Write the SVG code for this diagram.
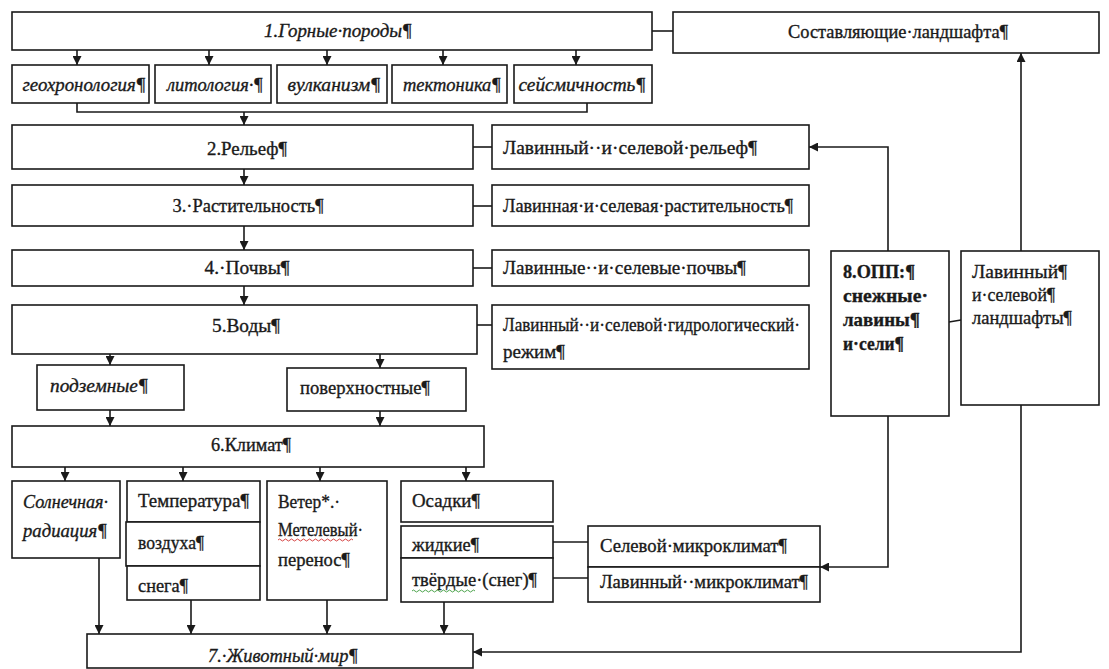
<svg xmlns="http://www.w3.org/2000/svg" width="1109" height="669" viewBox="0 0 1109 669" font-family="'Liberation Serif', 'Times New Roman', serif" font-size="19">
  <style>
    .box { fill: #ffffff; stroke: #1a1a1a; stroke-width: 1.6; }
    .ln { fill: none; stroke: #1a1a1a; stroke-width: 1.6; }
    .ar { fill: none; stroke: #1a1a1a; stroke-width: 1.6; marker-end: url(#tip); }
    text { font-family: 'Liberation Serif', 'Times New Roman', serif; font-size: 19px; fill: #1a1a1a; stroke: #1a1a1a; stroke-width: 0.35; }
    .c { text-anchor: middle; }
    .i { font-style: italic; }
    .b { font-weight: bold; }
    .wavy-r { fill: none; stroke: #d03030; stroke-width: 0.9; }
    .wavy-g { fill: none; stroke: #3a9a3a; stroke-width: 0.9; }
  </style>
  <defs>
    <marker id="tip" viewBox="0 0 10 10" refX="10" refY="5" markerWidth="9" markerHeight="9" markerUnits="userSpaceOnUse" orient="auto">
      <path d="M0,0 L10,5 L0,10 z" fill="#1a1a1a"/>
    </marker>
  </defs>
  <rect width="1109" height="669" fill="#ffffff"/>

  <!-- connectors -->
  <g id="connectors">
    <line class="ln" x1="652" y1="31" x2="673" y2="31"/>
    <line class="ar" x1="77" y1="50" x2="77" y2="65"/>
    <line class="ar" x1="209" y1="50" x2="209" y2="65"/>
    <line class="ar" x1="327" y1="50" x2="327" y2="65"/>
    <line class="ar" x1="443" y1="50" x2="443" y2="65"/>
    <line class="ar" x1="576" y1="50" x2="576" y2="65"/>
    <polyline class="ln" points="77,103 77,112 587,112 587,103"/>
    <line class="ar" x1="244" y1="112" x2="244" y2="125"/>
    <line class="ar" x1="244" y1="169" x2="244" y2="185"/>
    <line class="ar" x1="244" y1="226" x2="244" y2="250"/>
    <line class="ar" x1="244" y1="286" x2="244" y2="305"/>
    <line class="ln" x1="473" y1="147" x2="492" y2="147"/>
    <line class="ln" x1="473" y1="206" x2="492" y2="206"/>
    <line class="ln" x1="473" y1="268" x2="492" y2="268"/>
    <line class="ln" x1="477" y1="325" x2="492" y2="325"/>
    <line class="ar" x1="110" y1="354" x2="110" y2="365"/>
    <line class="ar" x1="380" y1="354" x2="380" y2="368"/>
    <line class="ar" x1="110" y1="410" x2="110" y2="426"/>
    <line class="ar" x1="380" y1="411" x2="380" y2="426"/>
    <line class="ar" x1="65" y1="467" x2="65" y2="481"/>
    <line class="ar" x1="183" y1="467" x2="183" y2="481"/>
    <line class="ar" x1="320" y1="467" x2="320" y2="481"/>
    <line class="ar" x1="466" y1="467" x2="466" y2="481"/>
    <line class="ar" x1="99" y1="558" x2="99" y2="634"/>
    <line class="ar" x1="191" y1="600" x2="191" y2="634"/>
    <line class="ar" x1="327" y1="600" x2="327" y2="634"/>
    <line class="ar" x1="444" y1="602" x2="444" y2="634"/>
    <line class="ln" x1="553" y1="542" x2="588" y2="542"/>
    <line class="ln" x1="553" y1="578" x2="588" y2="578"/>
    <polyline class="ar" points="888,251 888,147 809,147"/>
    <polyline class="ar" points="888,416 888,567 820,567"/>
    <polyline class="ar" points="1021,251 1021,53"/>
    <polyline class="ar" points="1021,405 1021,652 473,652"/>
    <line class="ln" x1="949" y1="322" x2="961" y2="320"/>
  </g>

  <!-- 1. rocks -->
  <g id="n1-rocks">
    <rect class="box" x="12" y="12" width="640" height="38"/>
    <text class="c i" x="338" y="37" textLength="148" lengthAdjust="spacingAndGlyphs">1.Горные·породы¶</text>
  </g>
  <g id="n-components">
    <rect class="box" x="673" y="12" width="426" height="41"/>
    <text class="c" x="898" y="38" textLength="220" lengthAdjust="spacingAndGlyphs">Составляющие·ландшафта¶</text>
  </g>

  <g id="n1a-geochronology">
    <rect class="box" x="12" y="65" width="137" height="38"/>
    <text class="c i" x="84" y="91" textLength="123" lengthAdjust="spacingAndGlyphs">геохронология¶</text>
  </g>
  <g id="n1b-lithology">
    <rect class="box" x="155" y="65" width="116" height="38"/>
    <text class="c i" x="215" y="91" textLength="96" lengthAdjust="spacingAndGlyphs">литология·¶</text>
  </g>
  <g id="n1c-volcanism">
    <rect class="box" x="277" y="65" width="110" height="38"/>
    <text class="c i" x="334" y="91" textLength="93" lengthAdjust="spacingAndGlyphs">вулканизм¶</text>
  </g>
  <g id="n1d-tectonics">
    <rect class="box" x="392" y="65" width="115" height="38"/>
    <text class="c i" x="452" y="91" textLength="98" lengthAdjust="spacingAndGlyphs">тектоника¶</text>
  </g>
  <g id="n1e-seismicity">
    <rect class="box" x="514" y="65" width="138" height="38"/>
    <text class="c i" x="582" y="91" textLength="127" lengthAdjust="spacingAndGlyphs">сейсмичность¶</text>
  </g>

  <!-- 2-5 main column with right-hand counterparts -->
  <g id="n2-relief">
    <rect class="box" x="12" y="125" width="461" height="44"/>
    <text class="c" x="247" y="155" textLength="80" lengthAdjust="spacingAndGlyphs">2.Рельеф¶</text>
  </g>
  <g id="n2r-relief">
    <rect class="box" x="492" y="125" width="317" height="44"/>
    <text x="503" y="154" textLength="254" lengthAdjust="spacingAndGlyphs">Лавинный··и·селевой·рельеф¶</text>
  </g>
  <g id="n3-vegetation">
    <rect class="box" x="12" y="185" width="461" height="41"/>
    <text class="c" x="248" y="212" textLength="151" lengthAdjust="spacingAndGlyphs">3.·Растительность¶</text>
  </g>
  <g id="n3r-vegetation">
    <rect class="box" x="492" y="185" width="317" height="41"/>
    <text x="503" y="212" textLength="290" lengthAdjust="spacingAndGlyphs">Лавинная·и·селевая·растительность¶</text>
  </g>
  <g id="n4-soils">
    <rect class="box" x="12" y="250" width="461" height="36"/>
    <text class="c" x="247" y="274" textLength="85" lengthAdjust="spacingAndGlyphs">4.·Почвы¶</text>
  </g>
  <g id="n4r-soils">
    <rect class="box" x="492" y="250" width="317" height="36"/>
    <text x="503" y="274" textLength="243" lengthAdjust="spacingAndGlyphs">Лавинные··и·селевые·почвы¶</text>
  </g>
  <g id="n5-waters">
    <rect class="box" x="12" y="305" width="465" height="49"/>
    <text class="c" x="246" y="332" textLength="68" lengthAdjust="spacingAndGlyphs">5.Воды¶</text>
  </g>
  <g id="n5r-hydro">
    <rect class="box" x="492" y="305" width="317" height="64"/>
    <text x="503" y="331" textLength="297" lengthAdjust="spacingAndGlyphs">Лавинный··и·селевой·гидрологический·</text>
    <text x="503" y="358" textLength="62" lengthAdjust="spacingAndGlyphs">режим¶</text>
  </g>
  <g id="n5a-ground">
    <rect class="box" x="37" y="365" width="147" height="45"/>
    <text class="i" x="50" y="392" textLength="98" lengthAdjust="spacingAndGlyphs">подземные¶</text>
  </g>
  <g id="n5b-surface">
    <rect class="box" x="287" y="368" width="179" height="43"/>
    <text x="300" y="394" textLength="130" lengthAdjust="spacingAndGlyphs">поверхностные¶</text>
  </g>

  <!-- 6. climate -->
  <g id="n6-climate">
    <rect class="box" x="12" y="426" width="472" height="41"/>
    <text class="c" x="251" y="451" textLength="80" lengthAdjust="spacingAndGlyphs">6.Климат¶</text>
  </g>
  <g id="n6a-radiation">
    <rect class="box" x="12" y="481" width="108" height="77"/>
    <text class="i" x="23" y="508" textLength="85" lengthAdjust="spacingAndGlyphs">Солнечная·</text>
    <text class="i" x="23" y="537" textLength="84" lengthAdjust="spacingAndGlyphs">радиация¶</text>
  </g>
  <g id="n6b-temperature">
    <rect class="box" x="127" y="481" width="133" height="41"/>
    <text x="138" y="507" textLength="111" lengthAdjust="spacingAndGlyphs">Температура¶</text>
    <rect class="box" x="126" y="522" width="134" height="44"/>
    <text x="138" y="549" textLength="66" lengthAdjust="spacingAndGlyphs">воздуха¶</text>
    <rect class="box" x="127" y="566" width="133" height="34"/>
    <text x="138" y="592" textLength="50" lengthAdjust="spacingAndGlyphs">снега¶</text>
  </g>
  <g id="n6c-wind">
    <rect class="box" x="267" y="481" width="120" height="119"/>
    <text x="278" y="508" textLength="62" lengthAdjust="spacingAndGlyphs">Ветер*.·</text>
    <text x="278" y="536" textLength="85" lengthAdjust="spacingAndGlyphs">Метелевый·</text>
    <path class="wavy-r" d="M278,540 q1.5,-2 3,0 t3,0 t3,0 t3,0 t3,0 t3,0 t3,0 t3,0 t3,0 t3,0 t3,0 t3,0 t3,0 t3,0 t3,0 t3,0 t3,0 t3,0 t3,0 t3,0 t3,0 t3,0 t3,0 t3,0 t3,0"/>
    <text x="278" y="566" textLength="72" lengthAdjust="spacingAndGlyphs">перенос¶</text>
  </g>
  <g id="n6d-precipitation">
    <rect class="box" x="401" y="481" width="152" height="41"/>
    <text x="412" y="507" textLength="68" lengthAdjust="spacingAndGlyphs">Осадки¶</text>
    <rect class="box" x="401" y="526" width="152" height="32"/>
    <text x="412" y="551" textLength="67" lengthAdjust="spacingAndGlyphs">жидкие¶</text>
    <rect class="box" x="401" y="558" width="152" height="44"/>
    <text x="412" y="586" textLength="125" lengthAdjust="spacingAndGlyphs">твёрдые·(снег)¶</text>
    <path class="wavy-g" d="M412,591 q1.5,-2 3,0 t3,0 t3,0 t3,0 t3,0 t3,0 t3,0 t3,0 t3,0 t3,0 t3,0 t3,0 t3,0 t3,0 t3,0 t3,0 t3,0 t3,0 t3,0 t3,0 t3,0"/>
  </g>
  <g id="n6e-microclimate">
    <rect class="box" x="588" y="526" width="232" height="41"/>
    <text x="600" y="552" textLength="187" lengthAdjust="spacingAndGlyphs">Селевой·микроклимат¶</text>
    <rect class="box" x="588" y="567" width="232" height="35"/>
    <text x="600" y="588" textLength="208" lengthAdjust="spacingAndGlyphs">Лавинный··микроклимат¶</text>
  </g>

  <!-- 7. fauna -->
  <g id="n7-fauna">
    <rect class="box" x="87" y="634" width="386" height="34"/>
    <text class="c i" x="283" y="662" textLength="150" lengthAdjust="spacingAndGlyphs">7.·Животный·мир¶</text>
  </g>

  <!-- 8. hazardous processes and resulting landscapes -->
  <g id="n8-hazards">
    <rect class="box" x="831" y="251" width="118" height="165"/>
    <text class="b" x="843" y="278" textLength="72" lengthAdjust="spacingAndGlyphs">8.ОПП:¶</text>
    <text class="b" x="843" y="302" textLength="85" lengthAdjust="spacingAndGlyphs">снежные·</text>
    <text class="b" x="843" y="326" textLength="77" lengthAdjust="spacingAndGlyphs">лавины¶</text>
    <text class="b" x="843" y="350" textLength="61" lengthAdjust="spacingAndGlyphs">и·сели¶</text>
  </g>
  <g id="n9-landscapes">
    <rect class="box" x="961" y="251" width="138" height="154"/>
    <text x="972" y="278" textLength="95" lengthAdjust="spacingAndGlyphs">Лавинный¶</text>
    <text x="972" y="301" textLength="83" lengthAdjust="spacingAndGlyphs">и·селевой¶</text>
    <text x="972" y="324" textLength="100" lengthAdjust="spacingAndGlyphs">ландшафты¶</text>
  </g>
</svg>
